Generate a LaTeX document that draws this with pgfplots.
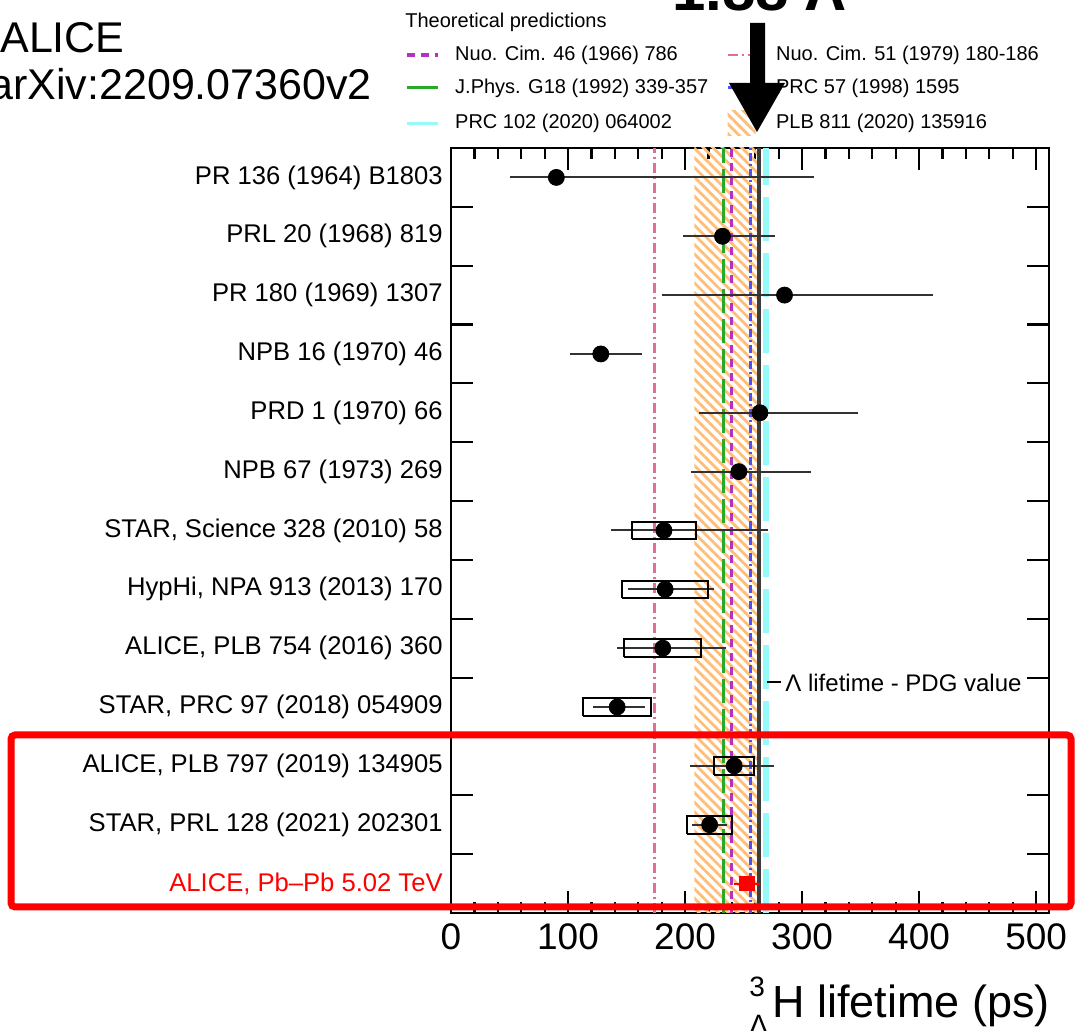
\documentclass[border=0pt]{standalone}
\usepackage{fontspec}
\setmainfont{Liberation Sans}
\usepackage{pgfplots}
\usepackage{pgfplotstable}
\pgfplotsset{compat=1.18}
\usetikzlibrary{patterns.meta}

\definecolor{cpink}{RGB}{225,110,150}
\definecolor{cgreen}{RGB}{40,170,40}
\definecolor{cmag}{RGB}{180,50,190}
\definecolor{cblue}{RGB}{80,80,240}
\definecolor{ccyan}{RGB}{150,250,250}
\definecolor{corange}{RGB}{255,190,120}
\definecolor{pdg}{RGB}{60,60,60}
\definecolor{errgray}{RGB}{50,50,50}

\pgfplotstableread{
y x em ep
13 90 40 220
12 232 34 45
11 285 105 127
10 128 26 35
9 264 52 84
8 246 41 62
7 182 45 89
6 183 32 42
5 181 39 54
4 142 21 24
3 242 38 34
2 221 15 15
}\meas

\pgfplotstableread{
y x em ep
1 253 11 11
}\alicenew

\begin{document}
\begin{tikzpicture}
\useasboundingbox (0,0) rectangle (538pt,515.5pt);
\begin{axis}[
  at={(225.5pt,59pt)}, anchor=south west,
  scale only axis, width=299pt, height=382.5pt,
  xmin=0, xmax=511, ymin=0.5, ymax=13.5,
  axis line style={line width=1.2pt},
  xtick={0,100,...,500}, minor x tick num=4,
  major tick length=11pt, minor tick length=5.5pt,
  every tick/.style={black, line width=1.1pt},
  ytick={1.5,2.5,...,12.5}, yticklabels={},
  extra y ticks={1,2,...,13},
  extra y tick labels={{\color{red}ALICE, Pb–Pb 5.02 TeV},
    {STAR, PRL 128 (2021) 202301},
    {ALICE, PLB 797 (2019) 134905},
    {STAR, PRC 97 (2018) 054909},
    {ALICE, PLB 754 (2016) 360},
    {HypHi, NPA 913 (2013) 170},
    {STAR, Science 328 (2010) 58},
    {NPB 67 (1973) 269},
    {PRD 1 (1970) 66},
    {NPB 16 (1970) 46},
    {PR 180 (1969) 1307},
    {PRL 20 (1968) 819},
    {PR 136 (1964) B1803}},
  extra y tick style={major tick length=0pt},
  y tick label style={font=\fontsize{12.8}{14}\selectfont, inner sep=0pt, xshift=-4pt},
  x tick label style={font=\fontsize{18.5}{20}\selectfont, inner sep=0pt, yshift=-5pt},
  /pgf/number format/assume math mode=true,
  legend columns=2,
  legend cell align=left,
  legend image code/.code={\draw[#1] (0pt,0pt) -- (15.5pt,0pt);},
  legend style={at={(axis description cs:-0.0769,1.1353)}, anchor=north west,
    draw=none, fill=none, inner sep=0pt, outer sep=0pt,
    font=\fontsize{10}{12}\selectfont, row sep=5.9pt, column sep=0pt,
    nodes={inner sep=0pt, text height=8pt, text depth=2.5pt},
    /tikz/every odd column/.append style={column sep=8pt},
    /tikz/every even column/.append style={column sep=9pt}},
]
% theory band PLB 811
\addplot[draw=none, pattern={Lines[angle=-45,distance=3.4pt,line width=1.4pt]}, pattern color=corange, forget plot]
  coordinates {(208,0.5) (262,0.5) (262,13.5) (208,13.5)} -- cycle;
% theory lines
\addplot[ccyan, line width=3pt, dash pattern=on 22pt off 6pt, forget plot] coordinates {(269,0.5) (269,13.5)};
\addplot[cpink, line width=1.3pt, dash pattern=on 5pt off 2pt on 1pt off 2pt, forget plot] coordinates {(174,0.5) (174,13.5)};
\addplot[cgreen, line width=1.2pt, dash pattern=on 12pt off 3pt, forget plot] coordinates {(233,0.5) (233,13.5)};
\addplot[cmag, line width=1.6pt, dash pattern=on 4pt off 3pt, forget plot] coordinates {(240,0.5) (240,13.5)};
\addplot[cblue, line width=1.4pt, dash pattern=on 4pt off 1.5pt on 1pt off 1.5pt, forget plot] coordinates {(256,0.5) (256,13.5)};
% PDG Lambda lifetime
\addplot[pdg, line width=1.6pt, forget plot] coordinates {(263.2,0.5) (263.2,13.5)};

% statistical error bars
\addplot[draw=none, mark=none, forget plot,
  error bars/.cd, x dir=both, x explicit, error mark=none,
  error bar style={line width=1pt, color=errgray, solid}]
  table[x=x, y=y, x error plus=ep, x error minus=em] {\meas};
\addplot[draw=none, mark=none, forget plot,
  error bars/.cd, x dir=both, x explicit, error mark=none,
  error bar style={line width=1pt, color=red, solid}]
  table[x=x, y=y, x error plus=ep, x error minus=em] {\alicenew};

% systematic boxes
\addplot[black, line width=1pt, mark=none, forget plot] coordinates {(155,6.85) (209,6.85) (209,7.15) (155,7.15) (155,6.85)};
\addplot[black, line width=1pt, mark=none, forget plot] coordinates {(146,5.85) (220,5.85) (220,6.15) (146,6.15) (146,5.85)};
\addplot[black, line width=1pt, mark=none, forget plot] coordinates {(148,4.85) (214,4.85) (214,5.15) (148,5.15) (148,4.85)};
\addplot[black, line width=1pt, mark=none, forget plot] coordinates {(113,3.85) (171,3.85) (171,4.15) (113,4.15) (113,3.85)};
\addplot[black, line width=1pt, mark=none, forget plot] coordinates {(225,2.85) (259,2.85) (259,3.15) (225,3.15) (225,2.85)};
\addplot[black, line width=1pt, mark=none, forget plot] coordinates {(202,1.85) (240,1.85) (240,2.15) (202,2.15) (202,1.85)};
\addplot[draw=red, fill=red, line width=0.6pt, mark=none, forget plot] coordinates {(247,0.89) (259,0.89) (259,1.11) (247,1.11)} -- cycle;

% central values
\addplot[only marks, mark=*, mark size=4pt, black, forget plot] table[x=x, y=y] {\meas};

% legend
\addlegendimage{cmag, line width=1.6pt, dash pattern=on 4pt off 3pt}
\addlegendentry{Nuo. Cim. 46 (1966) 786}
\addlegendimage{cpink, line width=1.3pt, dash pattern=on 5pt off 2pt on 1pt off 2pt}
\addlegendentry{Nuo. Cim. 51 (1979) 180-186}
\addlegendimage{cgreen, line width=1.3pt}
\addlegendentry{J.Phys. G18 (1992) 339-357}
\addlegendimage{cblue, line width=1.4pt, dash pattern=on 4pt off 1.5pt on 1pt off 1.5pt}
\addlegendentry{PRC 57 (1998) 1595}
\addlegendimage{ccyan, line width=1.5pt}
\addlegendentry{PRC 102 (2020) 064002}
\addlegendimage{draw=none, legend image code/.code={\path[draw=none, pattern={Lines[angle=-45,distance=3.4pt,line width=1.4pt]}, pattern color=corange] (0pt,-6pt) rectangle (14pt,6.5pt);}}
\addlegendentry{PLB 811 (2020) 135916}
\end{axis}

\begin{scope}[x=0.5pt, y=-0.5pt, shift={(0pt,515.5pt)}]
  % headline texts
  \node[anchor=base west, inner sep=0pt, font=\fontsize{21.5}{24}\selectfont] at (0,53) {ALICE};
  \node[anchor=base west, inner sep=0pt, font=\fontsize{21.5}{24}\selectfont] at (-11,100) {arXiv:2209.07360v2};
  \node[anchor=base west, inner sep=0pt, font=\fontsize{30}{32}\selectfont\bfseries] at (672,11) {1.88 Λ};
  \node[anchor=west, inner sep=0pt, font=\fontsize{10}{12}\selectfont] at (405,22) {Theoretical predictions};
  % arrow
  \fill[black] (750,23) -- (765,23) -- (765,83) -- (785,83) -- (757,132) -- (729,83) -- (750,83) -- cycle;
  % PDG label
  \draw[line width=1.2pt, black] (767,682) -- (781,682);
  \node[anchor=west, inner sep=0pt, font=\fontsize{12}{14}\selectfont] at (785,683) {Λ lifetime - PDG value};
  % x axis title
  \node[anchor=base east, inner sep=0pt, font=\fontsize{22.5}{24}\selectfont] at (1050,1018)
    {\raisebox{10.5pt}{\rlap{\fontsize{14}{14}\selectfont 3}}\raisebox{-8.5pt}{\fontsize{14}{14}\selectfont Λ}\kern2pt H lifetime (ps)};
  % highlight box
  \draw[red, line width=3.5pt, rounded corners=2pt] (11,735) rectangle (1071,907);
\end{scope}
\end{tikzpicture}
\end{document}
